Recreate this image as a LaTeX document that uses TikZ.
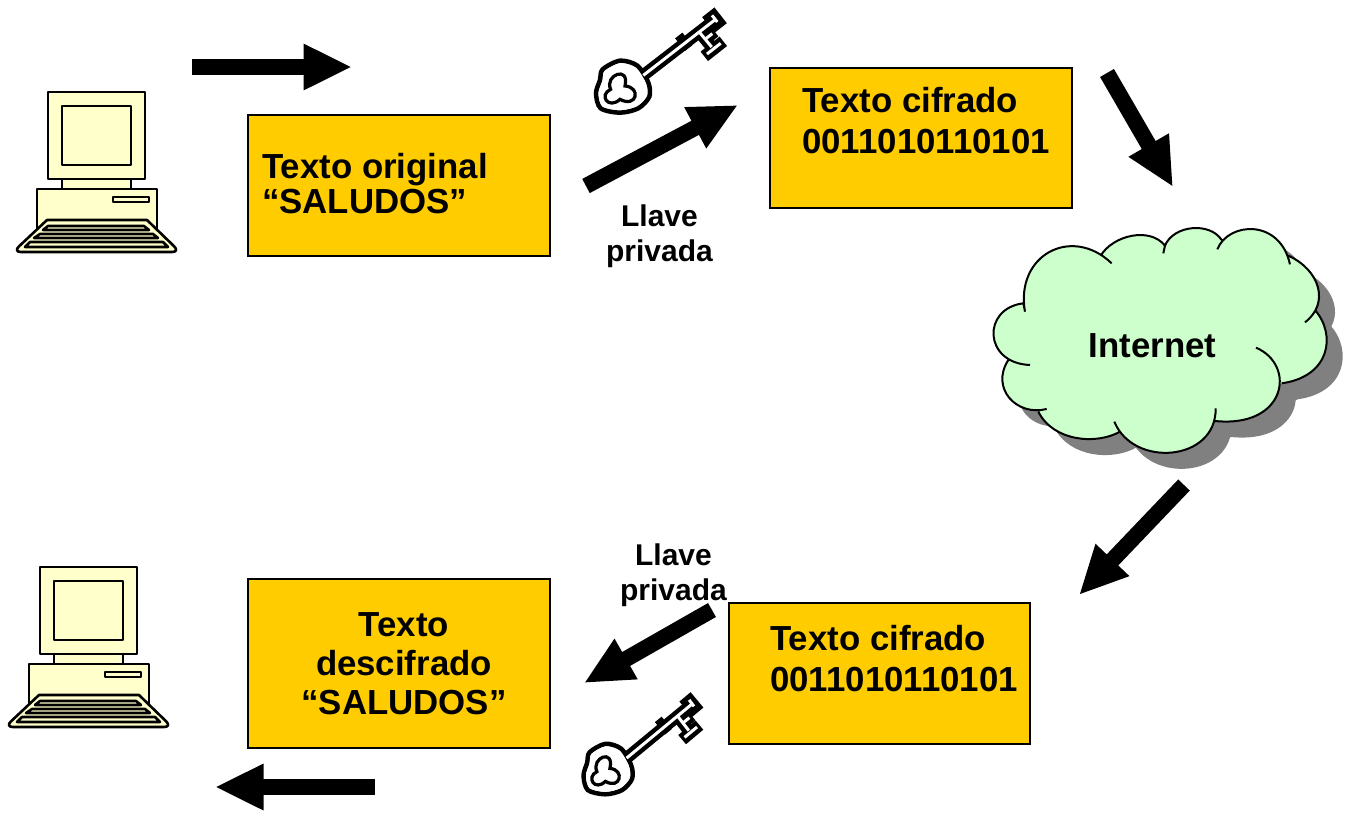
\documentclass[tikz,border=0pt]{standalone}
\usepackage{fontspec}
\setmainfont{Liberation Sans}
\usetikzlibrary{arrows.meta}

\definecolor{naranja}{HTML}{FFCC00}
\definecolor{crema}{HTML}{FFFFCC}
\definecolor{verdenube}{HTML}{CCFFCC}
\definecolor{sombra}{HTML}{808080}

\tikzset{
    caja/.style={draw=black, line width=2pt, fill=naranja, inner sep=0pt},
    texto/.style={font=\fontsize{34.8}{40}\bfseries\selectfont, inner sep=0pt, align=left},
    textochico/.style={font=\fontsize{30}{35}\bfseries\selectfont, inner sep=0pt, align=center},
    flecha/.style={line width=16pt, -{Triangle[length=48.5pt,width=43pt]}},
    pics/compu/.style={code={
        \begin{scope}[draw=black, line width=2.6pt, fill=crema, line join=round]
            \filldraw (62,179) rectangle (131,189);
            \filldraw (37,189) rectangle (157,235);
            \filldraw (113,197) rectangle (149,202);
            \filldraw (48,92) rectangle (145,179);
            \filldraw (62,106) rectangle (131,165);
            \filldraw (47,220) -- (147,220) -- (163.5,236) [rounded corners=8pt] -- (180,252) -- (13,252) -- (30,236) [sharp corners] -- (47,220) -- cycle;
            \filldraw (48,226) -- (144,226) -- (149,230) -- (43,230) -- cycle;
            \filldraw (40,234) -- (153,234) -- (158,238) -- (34,238) -- cycle;
            \filldraw (30,242) -- (163,242) -- (168,247) -- (25,247) -- cycle;
        \end{scope}
    }},
    pics/llave/.style={code={
        \begin{scope}[x=.3333pt, y=-.3333pt, draw=black, line join=miter]
            \filldraw[smooth cycle, fill=white, line width=4.5pt] plot coordinates {(172,197) (120,182) (68,208) (60,240) (48,280) (62,325) (120,338) (175,325) (208,290) (205,248)};
            % cuerpo negro
            \draw[line width=12pt] (195,222) -- (415,52);
            \draw[line width=16pt] (300,134) -- (322,117);
            \draw[line width=20pt] (385,75) -- (422,46);
            \draw[line width=12pt] (357,95) -- (400,147);
            \draw[line width=12pt] (373,169) -- (430,124);
            \draw[line width=12pt] (375,118) -- (404,95);
            % interior blanco
            \fill[smooth cycle, white] plot coordinates {(165,205) (120,190) (74,214) (68,245) (56,280) (68,318) (120,330) (170,318) (200,288) (197,250) (180,225)};
            \draw[white, line width=3pt] (190,226) -- (408,57);
            \draw[white, line width=3pt] (357,95) -- (395,141);
            \draw[white, line width=3pt] (381,162) -- (422,130);
            \draw[white, line width=3pt] (375,118) -- (397,101);
            \draw[white, line width=3pt] (396,46) -- (412,66);
            \filldraw[fill=white, line width=3.2pt] (92,268) .. controls (72,225) and (150,195) .. (135,258) .. controls (185,262) and (170,325) .. (120,298) .. controls (85,330) and (55,285) .. (92,268) -- cycle;
        \end{scope}
    }},
}

% lobulos de la nube
\def\nubelobulos{
    (135,290) .. controls (105,120) and (275,30) .. (395,145)
    (362,122) .. controls (400,60) and (510,35) .. (555,92) -- (550,115)
    (555,92) .. controls (580,30) and (690,20) .. (725,75)
    (712,103) .. controls (745,20) and (900,10) .. (930,148)
    (925,122) .. controls (1020,165) and (1050,265) .. (975,322)
    (1005,285) .. controls (1070,360) and (1050,485) .. (905,505)
    (828,398) .. controls (950,450) and (920,640) .. (705,618)
    (707,580) .. controls (710,740) and (460,760) .. (403,620)
    (420,650) .. controls (350,690) and (220,680) .. (175,590)
    (200,582) .. controls (110,605) and (30,520) .. (85,435)
    (150,450) .. controls (10,445) and (5,280) .. (130,265) -- (135,290)
}
\def\nubecentro{
    (130,265) -- (362,122) -- (555,92) -- (725,75) -- (925,122) -- (1005,285) -- (905,505) -- (705,618) -- (420,650) -- (175,590) -- (85,435) -- cycle
}

\begin{document}
\begin{tikzpicture}[x=1pt, y=-1pt]
    \useasboundingbox (0,0) rectangle (1353,812);

    % computadoras
    \pic (compu1) at (0,0) {compu};
    \pic (compu2) at (-8,475) {compu};

    % cajas
    \node[caja, minimum width=302pt, minimum height=141pt] (original) at (399,185.5) {};
    \node[caja, minimum width=302pt, minimum height=140pt] (cifrado) at (921,138) {};
    \node[caja, minimum width=301pt, minimum height=141pt] (cifrado2) at (879.5,673.5) {};
    \node[caja, minimum width=302pt, minimum height=169pt] (descifrado) at (399,663.5) {};

    \node[texto, anchor=west, font=\fontsize{34.8}{35}\bfseries\selectfont] (textoa) at (262,184) {Texto original\\“SALUDOS”};
    \node[texto, anchor=west, font=\fontsize{34.8}{41}\bfseries\selectfont] (textob) at (802,121) {Texto cifrado\\0011010110101};
    \node[texto, anchor=west, font=\fontsize{34.8}{41}\bfseries\selectfont] (textoc) at (770,659) {Texto cifrado\\0011010110101};
    \node[texto, align=center, font=\fontsize{34.8}{39}\bfseries\selectfont] (textod) at (404,664) {Texto\\descifrado\\“SALUDOS”};

    % nube
    \begin{scope}[shift={(996,231)}, x=.3333pt, y=-.3333pt]
        \fill[sombra] \nubelobulos \nubecentro;
    \end{scope}
    \begin{scope}[shift={(980,215)}, x=.3333pt, y=-.3333pt]
        \fill[verdenube] \nubelobulos \nubecentro;
        \draw[line width=2pt] \nubelobulos;
    \end{scope}
    \node[texto] (internet) at (1152.5,345.5) {Internet};

    % llaves
    \pic (llave1) at (580,0) {llave};
    \pic[xscale=.91, yscale=.97] (llave2) at (569,685) {llave};
    \node[textochico] (privada1) at (659.5,236) {Llave\\privada};
    \node[textochico] (privada2) at (673.5,575) {Llave\\privada};

    % flechas
    \coordinate (f1a) at (192,67);
    \coordinate (f1b) at (352,67);
    \coordinate (f2a) at (586,186);
    \coordinate (f2b) at (738,105);
    \coordinate (f3a) at (1107,73);
    \coordinate (f3b) at (1173,187);
    \coordinate (f4a) at (1184,485);
    \coordinate (f4b) at (1079,595);
    \coordinate (f5a) at (712,610);
    \coordinate (f5b) at (584,683);
    \coordinate (f6a) at (375,787);
    \coordinate (f6b) at (215,787);
    \draw[flecha] (f1a) -- (f1b);
    \draw[flecha] (f2a) -- (f2b);
    \draw[flecha] (f3a) -- (f3b);
    \draw[flecha] (f4a) -- (f4b);
    \draw[flecha] (f5a) -- (f5b);
    \draw[flecha] (f6a) -- (f6b);

\end{tikzpicture}
\end{document}
